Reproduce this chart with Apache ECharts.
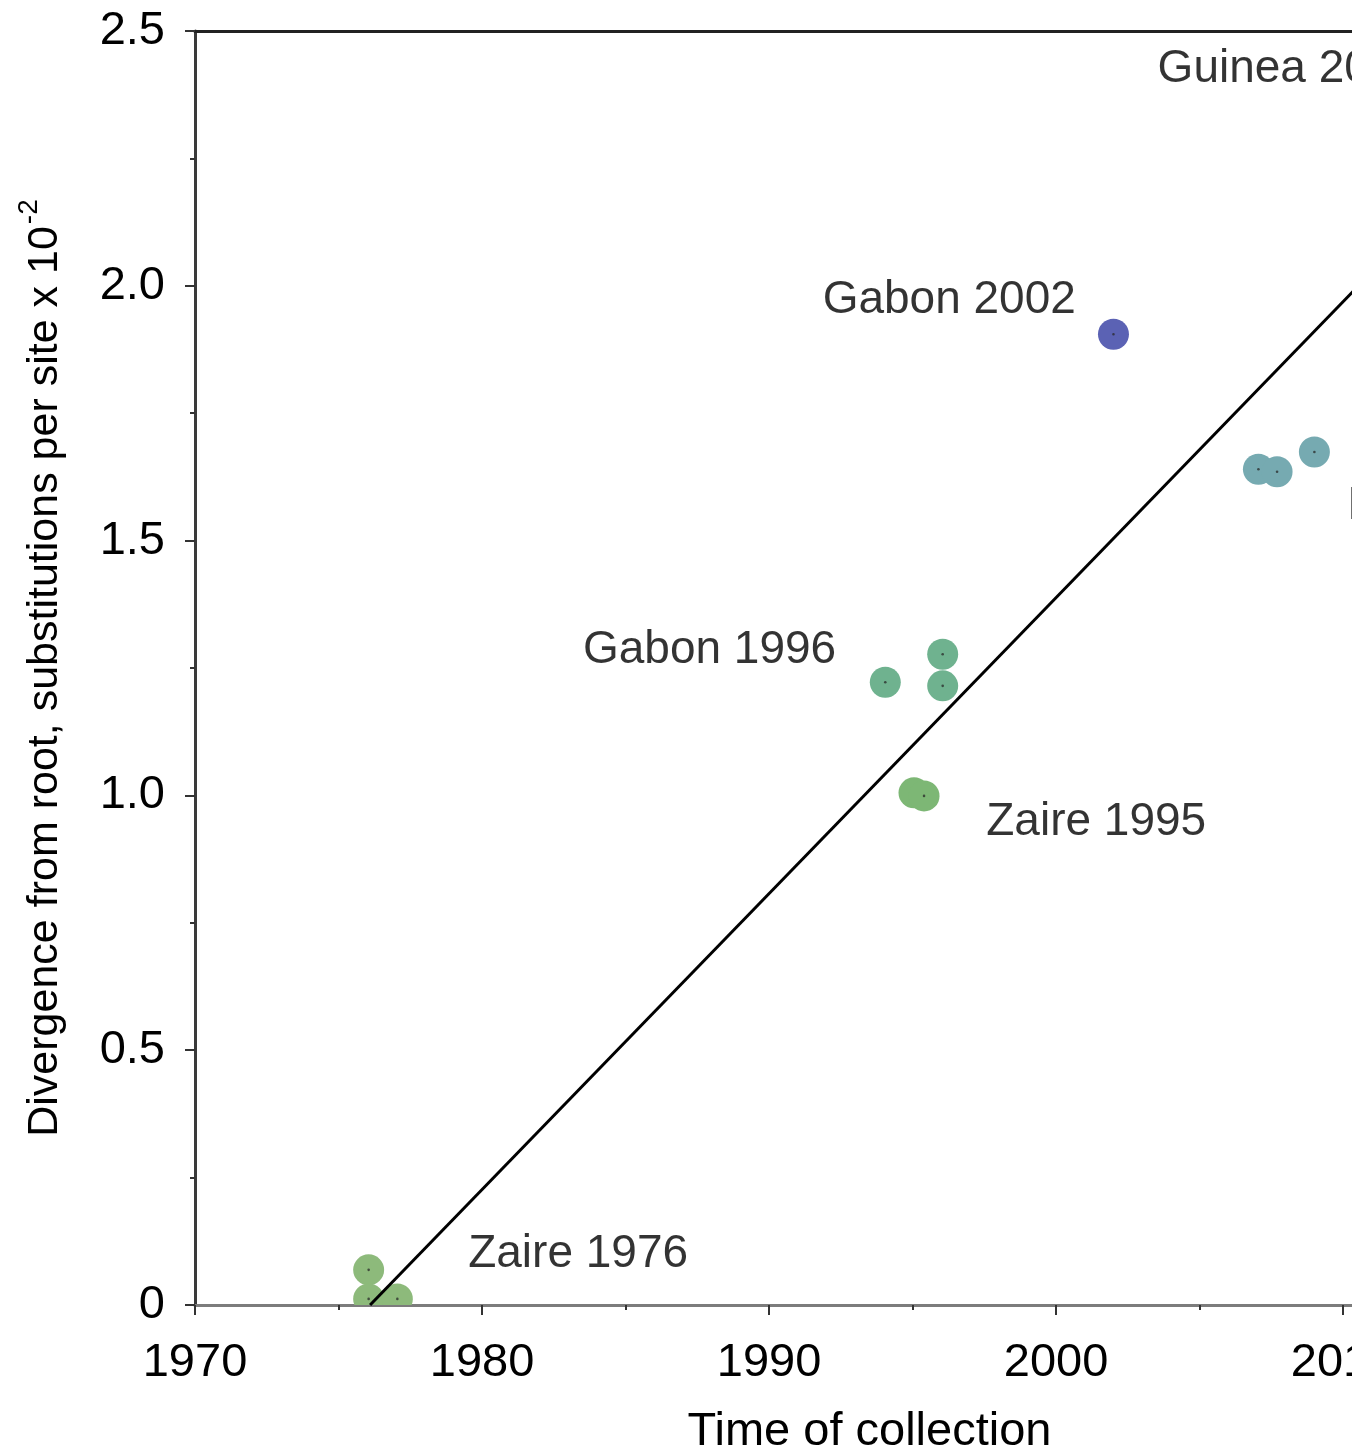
<!DOCTYPE html>
<html><head><meta charset="utf-8">
<script src="https://cdn.jsdelivr.net/npm/echarts@6/dist/echarts.min.js"></script>
<style>
html,body{margin:0;padding:0;background:#fff;overflow:hidden;}
#wrap{width:1352px;height:1452px;overflow:hidden;position:relative;background:#fff;}
#chart{width:1600px;height:1452px;}
</style></head>
<body><div id="wrap"><div id="chart"></div></div>
<script>
// ---- data ----
const zaire1976 = [[1976.05, 0.069], [1976.05, 0.012], [1977.05, 0.012]];
const zaire1995 = [[1995.05, 1.005], [1995.4, 0.999]];
const gabon1996 = [[1994.05, 1.222], [1996.05, 1.277], [1996.05, 1.215]];
const gabon2002 = [[2002.0, 1.905]];
const drc2007   = [[2007.05, 1.640], [2007.7, 1.635], [2009.0, 1.674]];
const trendLine = [[1976.1, 0.0], [2012.0, 2.085]];
const labelNames = ['Zaire 1976', 'Zaire 1995', 'Gabon 1996', 'Gabon 2002', 'DRC 2007', 'Guinea 2014'];
const labelAnchors = [[1979.5, 0.099], [1997.55, 0.948], [1983.5, 1.285], [1991.85, 1.972], [2010.14, 1.568], [2003.52, 2.424]];
const xTicks = { min: 1970, max: 2017, step: 10 };
const yTicks = { min: 0, max: 2.5, step: 0.5 };
const xTitle = 'Time of collection';
const yTitle = 'Divergence from root, substitutions per site x 10';
const ySup = '-2';

const FONT = 'Liberation Sans, Arial, Helvetica, sans-serif';
const TXT = '#000';
const colors = {
  zaire1976: '#8dba7b', zaire1995: '#7db775', gabon1996: '#6fb28f',
  gabon2002: '#5b62b4', drc2007: '#76aab1'
};
const R = 15.5;

function pointRenderer(color) {
  return function (params, api) {
    const p = api.coord([api.value(0), api.value(1)]);
    return {
      type: 'group',
      children: [
        { type: 'circle', shape: { cx: p[0], cy: p[1], r: R }, style: { fill: color } },
        { type: 'circle', shape: { cx: p[0], cy: p[1], r: 1.3 }, style: { fill: 'rgba(40,40,40,0.75)' } }
      ]
    };
  };
}

const pointSeries = [
  ['zaire1976', zaire1976], ['zaire1995', zaire1995], ['gabon1996', gabon1996],
  ['gabon2002', gabon2002], ['drc2007', drc2007]
].map(([k, d]) => ({
  type: 'custom', name: k, data: d, z: 2, clip: true, silent: true,
  encode: { x: 0, y: 1 },
  renderItem: pointRenderer(colors[k])
}));

const chart = echarts.init(document.getElementById('chart'), null, { renderer: 'canvas' });
chart.setOption({
  animation: false,
  backgroundColor: '#fff',
  grid: { left: 195, right: 56, top: 31, bottom: 147, containLabel: false, outerBoundsMode: 'none' },
  xAxis: [{
    type: 'value', min: xTicks.min, max: xTicks.max, interval: xTicks.step,
    name: xTitle, nameLocation: 'middle', nameGap: 104,
    nameTextStyle: { fontSize: 47, fontFamily: FONT, color: TXT },
    axisLine: { show: true, onZero: false, lineStyle: { color: '#7c7c7c', width: 3 } },
    axisTick: { show: true, length: 10, lineStyle: { color: '#333', width: 2 } },
    minorTick: { show: true, splitNumber: 2, length: 5, lineStyle: { color: '#333', width: 2 } },
    axisLabel: { fontSize: 47, fontFamily: FONT, color: TXT, margin: 35, showMaxLabel: false,
      formatter: v => String(v) },
    splitLine: { show: false }
  }, {
    type: 'value', position: 'top', min: xTicks.min, max: xTicks.max, interval: xTicks.step,
    axisLine: { show: true, onZero: false, lineStyle: { color: '#222', width: 3 } },
    axisTick: { show: false }, axisLabel: { show: false }, splitLine: { show: false }
  }],
  yAxis: {
    type: 'value', min: yTicks.min, max: yTicks.max, interval: yTicks.step,
    name: '{m|' + yTitle + '}{s|' + ySup + '}',
    nameLocation: 'middle', nameRotate: 90, nameGap: 128,
    nameTextStyle: {
      fontFamily: FONT, color: TXT,
      rich: {
        m: { fontSize: 43, fontFamily: FONT, color: TXT, lineHeight: 52, verticalAlign: 'bottom' },
        s: { fontSize: 28, fontFamily: FONT, color: TXT, lineHeight: 52, verticalAlign: 'top', padding: [0, 0, 0, 2] }
      }
    },
    axisLine: { show: true, onZero: false, lineStyle: { color: '#3a3a3a', width: 3 } },
    axisTick: { show: true, length: 10, lineStyle: { color: '#333', width: 2 } },
    minorTick: { show: true, splitNumber: 2, length: 5, lineStyle: { color: '#333', width: 2 } },
    axisLabel: {
      fontSize: 47, fontFamily: FONT, color: TXT, margin: 30,
      formatter: v => (v === 0 ? '0' : v.toFixed(1))
    },
    splitLine: { show: false }
  },
  series: pointSeries.concat([
    {
      type: 'line', name: 'trend', data: trendLine, showSymbol: false, symbol: 'none', z: 4,
      lineStyle: { color: '#000', width: 3 }, silent: true
    },
    {
      type: 'scatter', name: 'labels', clip: false, silent: true, z: 5,
      symbolSize: 1, itemStyle: { color: 'rgba(0,0,0,0)' },
      data: labelNames.map((n, i) => ({ name: n, value: labelAnchors[i] })),
      label: {
        show: true, position: 'right', distance: 0, formatter: p => p.name,
        fontSize: 46, fontFamily: FONT, color: TXT
      }
    }
  ])
});
</script>
</body></html>
